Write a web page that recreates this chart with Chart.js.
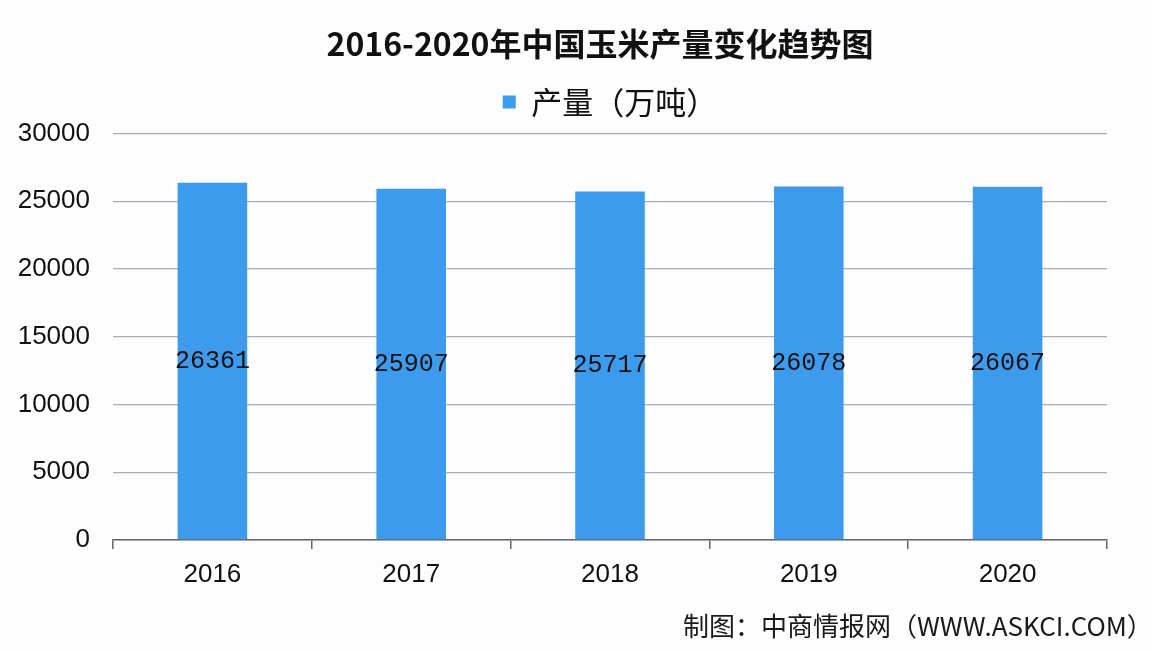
<!DOCTYPE html>
<html>
<head>
<meta charset="utf-8">
<script src="https://cdn.jsdelivr.net/npm/chart.js@4"></script>
<style>
  html, body { margin: 0; padding: 0; background: #fdfcfe; }
  #wrap { position: relative; width: 1152px; height: 652px; overflow: hidden; }
  #footer { position: absolute; left: 683px; top: 606px; font: 26px "Noto Sans CJK SC", sans-serif; color: #1a1a1a; white-space: nowrap; }
</style>
</head>
<body>
<div id="wrap">
  <canvas id="c" width="1152" height="652"></canvas>
  <div id="footer">制图：中商情报网（WWW.ASKCI.COM）</div>
</div>
<script>
const categories = ["2016", "2017", "2018", "2019", "2020"];
const production = [26361, 25907, 25717, 26078, 26067];
const seriesName = "产量（万吨）";
const yTicks = [0, 5000, 10000, 15000, 20000, 25000, 30000];

const valueLabels = {
  id: 'valueLabels',
  afterDatasetsDraw(chart) {
    const ctx = chart.ctx;
    const meta = chart.getDatasetMeta(0);
    const y = chart.scales.y;
    ctx.save();
    ctx.font = '25px "Liberation Mono", monospace';
    ctx.fillStyle = '#111';
    ctx.textAlign = 'center';
    ctx.textBaseline = 'middle';
    meta.data.forEach((bar, i) => {
      const v = chart.data.datasets[0].data[i];
      const mid = (y.getPixelForValue(v) + y.getPixelForValue(0)) / 2;
      ctx.fillText(String(v), bar.x, mid);
    });
    ctx.restore();
  }
};

new Chart(document.getElementById('c'), {
  type: 'bar',
  data: {
    labels: categories,
    datasets: [{
      label: seriesName,
      data: production,
      backgroundColor: '#3d9bed',
      borderWidth: 0,
      barPercentage: 0.7,
      categoryPercentage: 0.5
    }]
  },
  options: {
    responsive: false,
    animation: false,
    devicePixelRatio: 1,
    layout: { padding: { left: 0, right: -48, top: 9, bottom: 50 } },
    plugins: {
      title: {
        display: true,
        text: '2016-2020年中国玉米产量变化趋势图',
        font: { family: '"Noto Sans CJK SC", sans-serif', size: 32, weight: 'bold' },
        color: '#111',
        padding: { top: 16, bottom: 23 }
      },
      legend: {
        display: true,
        fullSize: false,
        maxWidth: 1008,
        labels: {
          boxWidth: 13, boxHeight: 13,
          font: { family: '"Noto Sans CJK SC", sans-serif', size: 31 },
          color: '#111',
          padding: 0
        }
      },
      tooltip: { enabled: false }
    },
    scales: {
      x: {
        grid: { display: true, drawOnChartArea: false, drawTicks: true, tickLength: 9, offset: true, color: '#666', lineWidth: 1.5 },
        border: { display: true, color: '#666', width: 1.5 },
        ticks: { font: { family: '"Liberation Sans", sans-serif', size: 26 }, color: '#111', padding: 10 },
        afterFit(s) { s.height = 62; }
      },
      xTop: {
        type: 'category',
        position: 'top',
        display: true,
        grid: { display: false, drawTicks: false },
        border: { display: false },
        ticks: { display: false },
        afterFit(s) { s.height = 6; }
      },
      y: {
        min: 0, max: 30000,
        afterBuildTicks(s) { s.ticks = yTicks.map(v => ({ value: v })); },
        grid: { color: '#a9aeb5', lineWidth: 1.3, drawTicks: false },
        border: { display: false },
        ticks: {
          font: { family: '"Liberation Sans", sans-serif', size: 26 }, color: '#111', padding: 23,
          callback: (v) => String(v)
        },
        afterFit(s) { s.width = 113; }
      },
      yRight: {
        type: 'linear',
        position: 'right',
        display: true,
        grid: { display: false, drawTicks: false },
        border: { display: false },
        ticks: { display: false },
        afterFit(s) { s.width = 93; }
      }
    }
  },
  plugins: [valueLabels]
});
</script>
</body>
</html>
